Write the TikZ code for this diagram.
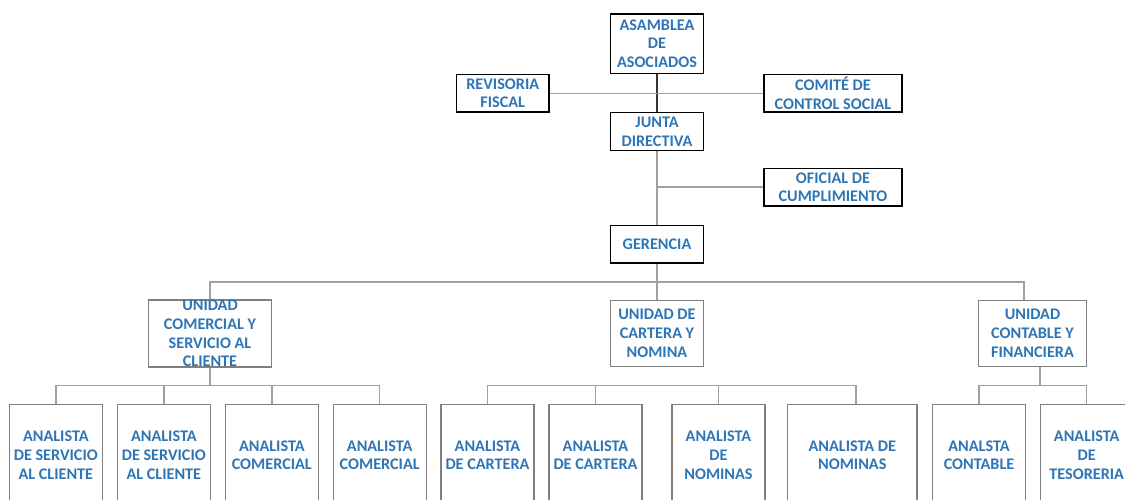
\documentclass[tikz,border=0pt]{standalone}
\usepackage{fontspec}
\setmainfont{Carlito}
\usetikzlibrary{calc}
\definecolor{lbl}{RGB}{46,117,182}
\definecolor{edge}{RGB}{128,128,128}
\definecolor{wire}{RGB}{160,160,160}
\begin{document}
\begin{tikzpicture}[x=1pt,y=-1pt,
  unitbox/.style={draw=edge, line width=1.1pt, align=center, inner sep=0pt,
    text=lbl, font=\bfseries\fontsize{16.2}{18.8}\selectfont},
  headbox/.style={unitbox, draw=black, line width=1.5pt},
  wireline/.style={draw=wire, line width=1.4pt},
  mainline/.style={draw=black!80, line width=1.4pt}]
\useasboundingbox (0,0) rectangle (1125,500);

% governing bodies
\node[headbox, minimum width=93, minimum height=59.5] (asm) at (657,43.7) {ASAMBLEA\\DE\\ASOCIADOS};
\node[headbox, minimum width=92.5, minimum height=37.5] (rev) at (502.75,93.3) {REVISORIA\\FISCAL};
\node[headbox, minimum width=138, minimum height=37.5] (com) at (833,93.3) {COMITÉ DE\\CONTROL SOCIAL};
\node[headbox, minimum width=93, minimum height=38.4] (jun) at (657,131.5) {JUNTA\\DIRECTIVA};
\node[headbox, minimum width=138, minimum height=37.7] (ofi) at (833,187.2) {OFICIAL DE\\CUMPLIMIENTO};
\node[headbox, minimum width=92.6, minimum height=37.3] (ger) at (657,244.3) {GERENCIA};

% units
\node[unitbox, minimum width=123.4, minimum height=65.6] (uc) at (210,333.5) {UNIDAD\\COMERCIAL Y\\SERVICIO AL\\CLIENTE};
\node[unitbox, minimum width=92.6, minimum height=65.6] (uk) at (657,333.5) {UNIDAD DE\\CARTERA Y\\NOMINA};
\node[unitbox, minimum width=108.4, minimum height=65.6] (uf) at (1032.5,333.5) {UNIDAD\\CONTABLE Y\\FINANCIERA};

% analysts
\tikzset{anbox/.style={unitbox, minimum width=93, minimum height=101.7}}
\node[anbox] (a1) at (55.8,455.2) {ANALISTA\\DE SERVICIO\\AL CLIENTE};
\node[anbox] (a2) at (163.8,455.2) {ANALISTA\\DE SERVICIO\\AL CLIENTE};
\node[anbox] (a3) at (271.8,455.2) {ANALISTA\\COMERCIAL};
\node[anbox] (a4) at (379.7,455.2) {ANALISTA\\COMERCIAL};
\node[anbox] (a5) at (487.5,455.2) {ANALISTA\\DE CARTERA};
\node[anbox] (a6) at (595.5,455.2) {ANALISTA\\DE CARTERA};
\node[anbox] (a7) at (718.5,455.2) {ANALISTA\\DE\\NOMINAS};
\node[anbox, minimum width=129.3] (a8) at (852.3,455.2) {ANALISTA DE\\NOMINAS};
\node[anbox] (a9) at (979,455.2) {ANALSTA\\CONTABLE};
\node[anbox] (a10) at (1086.7,455.2) {ANALISTA\\DE\\TESORERIA};

% upper connectors
\draw[mainline] (asm.south) -- (jun.north);
\draw[wireline] (rev.east) -- (com.west);
\draw[wireline] (jun.south) -- (ger.north);
\draw[wireline] (ofi.west) -- (jun.south |- ofi.west);

% management bus
\coordinate (bus) at (657,282);
\draw[wireline] (ger.south) -- (bus);
\draw[wireline] (uc.north) |- (bus) -| ($(uf.north)+(-8.5,0)$);
\draw[wireline] (bus) -- (uk.north);

% commercial unit
\coordinate (cbus) at (210,385.7);
\draw[wireline] (uc.south) -- (cbus);
\draw[wireline] (a1.north) |- (cbus) -| (a4.north);
\draw[wireline] (a2.north) -- (a2.north |- cbus);
\draw[wireline] (a3.north) -- (a3.north |- cbus);

% portfolio and payroll unit
\coordinate (kbus) at (856,385.7);
\draw[wireline] (a5.north) |- (kbus) -- (kbus |- a8.north);
\draw[wireline] (a6.north) -- (a6.north |- kbus);
\draw[wireline] (a7.north) -- (a7.north |- kbus);

% accounting unit
\coordinate (fbus) at (1040,385.7);
\draw[wireline] ($(uf.south)+(7.5,0)$) -- (fbus);
\draw[wireline] (a9.north) |- (fbus) -| (a10.north);
\end{tikzpicture}
\end{document}
